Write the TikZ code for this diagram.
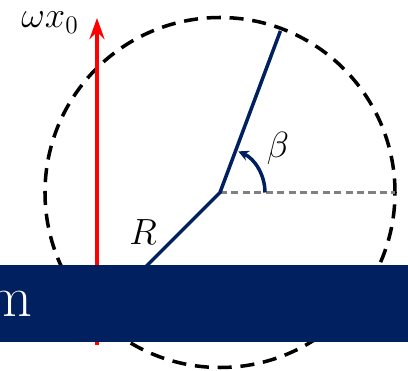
\documentclass[tikz,border=0pt]{standalone}
\usepackage{amsmath,amssymb}
\usepackage{tikz}
\usetikzlibrary{arrows.meta,positioning,calc}
\definecolor{BarNavy}{RGB}{0,32,96}
\definecolor{MidGray}{RGB}{128,128,128}

\begin{document}
\begin{tikzpicture}
        \useasboundingbox (-4.4,-3.57) rectangle (3.76,3.85);
        \coordinate (O) at (0,0);
        \coordinate (rim) at (3.5,0);
        \coordinate (tail) at (-2.46,-3.05);
        \coordinate (head) at (-2.46,3.49);
        \draw[black, line width=2pt, dash pattern=on 8pt off 5pt] (O) circle (3.5);
        \draw[-{Stealth[length=12pt,width=8.5pt,inset=4pt]}, red, line width=2pt] (tail)--(head);
        \draw[MidGray, line width=1.3pt, dash pattern=on 4pt off 2.5pt] (O)--(rim);
        \draw[BarNavy, line width=2pt] (225:3.5)--(O)--(69.5:3.45);
        \draw[BarNavy, line width=2pt, -{Stealth[length=6pt,width=6pt,inset=2pt]}] (0.9,0) arc (0:66:0.9);
        \node[fill=BarNavy, inner sep=0pt, minimum width=8.6cm, minimum height=1.54cm] (bar) at (-0.3,-2.22) {};
        \node[text=white, inner sep=0pt, anchor=base east, font=\fontsize{33}{40}\selectfont] (lbl) at (-3.74,-2.48) {m};
        \node[font=\fontsize{22}{26}\selectfont] (om) at (-3.4,3.4) {$\omega x_0$};
        \node[font=\fontsize{22}{26}\selectfont] (beta) at (1.16,0.89) {$\beta$};
        \node[font=\fontsize{22}{26}\selectfont] (rad) at (-1.54,-0.79) {$R$};
      \end{tikzpicture}
\end{document}
